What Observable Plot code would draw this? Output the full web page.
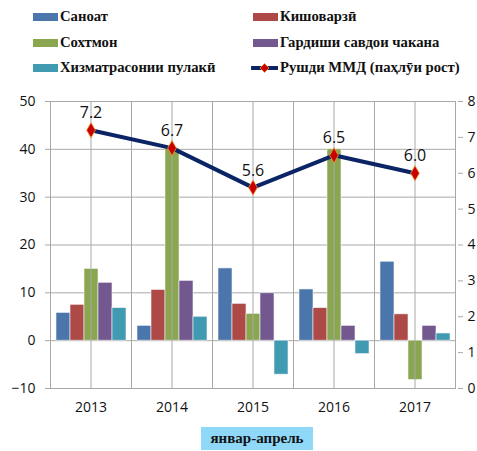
<!DOCTYPE html>
<html>
<head>
<meta charset="utf-8">
<script src="https://cdn.jsdelivr.net/npm/d3@7"></script>
<script src="https://cdn.jsdelivr.net/npm/@observablehq/plot@0.6"></script>
<style>
  html, body { margin: 0; padding: 0; background: white; overflow: hidden; width: 477px; height: 451px; }
  #wrap { position: relative; width: 477px; height: 451px; }
  .leg { position: absolute; font-family: "Liberation Serif", serif; font-weight: bold; font-size: 14.7px; color: #111; white-space: nowrap; line-height: 16px; }
  .sw { position: absolute; width: 25px; height: 8px; }
  #bars, #line { position: absolute; left: 0; top: 88px; }
  #caption { position: absolute; left: 201px; top: 427px; width: 112px; height: 23px; background: #8fd8f8;
    font-family: "Liberation Serif", serif; font-weight: bold; font-size: 15px; text-align: center; line-height: 23px; color: #111; }
</style>
</head>
<body>
<div id="wrap">
  <div id="legend"></div>
  <div id="bars"></div>
  <div id="line"></div>
  <div id="caption">январ-апрель</div>
</div>
<script>
const years = ["2013", "2014", "2015", "2016", "2017"];
const series = ["Саноат", "Кишоварзӣ", "Сохтмон", "Гардиши савдои чакана", "Хизматрасонии пулакӣ"];
const colors = ["#4a76ac", "#ad4a47", "#8ba650", "#72588f", "#409ab2"];
const sanoat = [5.8, 3.1, 15.1, 10.7, 16.5];
const kishovarzi = [7.5, 10.6, 7.7, 6.8, 5.5];
const sokhtmon = [15.0, 40.2, 5.6, 40.0, -8.2];
const gardish = [12.1, 12.5, 9.9, 3.1, 3.1];
const khizmat = [6.8, 5.0, -7.1, -2.8, 1.5];
const lineName = "Рушди ММД (паҳлӯи рост)";
const gdp = [7.2, 6.7, 5.6, 6.5, 6.0];
const leftTicks = [-10, 0, 10, 20, 30, 40, 50];
const rightTicks = [0, 1, 2, 3, 4, 5, 6, 7, 8];

const seriesValues = [sanoat, kishovarzi, sokhtmon, gardish, khizmat];
const rows = years.flatMap((yr, i) => series.map((s, j) => ({year: yr, series: s, value: seriesValues[j][i]})));
const linePts = years.map((yr, i) => ({year: yr, value: gdp[i]}));

// Legend
const legend = document.getElementById("legend");
const legItems = [
  {name: series[0], color: colors[0], col: 0, row: 0},
  {name: series[1], color: colors[1], col: 1, row: 0},
  {name: series[2], color: colors[2], col: 0, row: 1},
  {name: series[3], color: colors[3], col: 1, row: 1},
  {name: series[4], color: colors[4], col: 0, row: 2},
  {name: lineName, color: null, col: 1, row: 2}
];
const colX = [33, 253], rowY = [17, 43, 68];
legItems.forEach(it => {
  const x = colX[it.col], y = rowY[it.row];
  if (it.color) {
    const sw = document.createElement("div");
    sw.className = "sw";
    sw.style.left = x + "px"; sw.style.top = (y - 4) + "px"; sw.style.background = it.color;
    legend.appendChild(sw);
  } else {
    const ns = "http://www.w3.org/2000/svg";
    const s = document.createElementNS(ns, "svg");
    s.setAttribute("width", 27); s.setAttribute("height", 12);
    s.style.position = "absolute"; s.style.left = (x - 2) + "px"; s.style.top = (y - 6) + "px";
    s.innerHTML = '<line x1="1" y1="6" x2="26" y2="6" stroke="#0a2466" stroke-width="4" stroke-linecap="round"/>' +
      '<path d="M13.5,1.5 L18,6 L13.5,10.5 L9,6 Z" fill="#c80000" stroke="#f0a030" stroke-width="0.8"/>';
    legend.appendChild(s);
  }
  const t = document.createElement("div");
  t.className = "leg";
  t.textContent = it.name;
  t.style.left = (x + 27) + "px"; t.style.top = (y - 9) + "px";
  legend.appendChild(t);
});

const W = 477, H = 330, mT = 13, mB = 30, mL = 48, mR = 20;
const numFont = "'Open Sans', sans-serif";

const bars = Plot.plot({
  width: W, height: H, marginTop: mT, marginBottom: mB, marginLeft: mL, marginRight: mR,
  style: {fontFamily: numFont, fontSize: "14px", background: "transparent", overflow: "visible"},
  fx: {domain: years, padding: 0, axis: null, label: null},
  x: {domain: series, axis: null, paddingInner: 0, paddingOuter: 0.27},
  y: {domain: [-10, 50], axis: null},
  color: {domain: series, range: colors},
  marks: [
    Plot.gridY(leftTicks, {stroke: "#a8a8a8", strokeOpacity: 1, strokeWidth: 1}),
    Plot.frame({stroke: "#a8a8a8", strokeWidth: 1}),
    Plot.barY(rows, {fx: "year", x: "series", y: "value", fill: "series", stroke: "#f4f4f4", strokeWidth: 0.6}),
    Plot.axisY(leftTicks, {anchor: "left", tickSize: 5, tickPadding: 10, stroke: "#a8a8a8", fill: "#111", label: null, fontSize: 14})
  ]
});
document.getElementById("bars").appendChild(bars);

const line = Plot.plot({
  width: W, height: H, marginTop: mT, marginBottom: mB, marginLeft: mL, marginRight: mR,
  style: {fontFamily: numFont, fontSize: "14px", background: "transparent", overflow: "visible"},
  x: {type: "band", domain: years, padding: 0, axis: null},
  y: {domain: [0, 8], axis: null},
  marks: [
    Plot.axisX(years, {anchor: "bottom", tickSize: 0, tickPadding: 14, fill: "#111", label: null, fontSize: 14}),
    Plot.axisY(rightTicks, {anchor: "right", tickSize: 5, tickPadding: 5, stroke: "#a8a8a8", fill: "#111", label: null, fontSize: 14}),
    Plot.tickX(years, {x: d => d, y1: 1.34, y2: 1.22, stroke: "#a8a8a8"}),
    Plot.line(linePts, {x: "year", y: "value", stroke: "#0a2466", strokeWidth: 4}),
    Plot.dot(linePts, {x: "year", y: "value", symbol: "diamond", r: 4.6, fill: "#c80000", stroke: "#f0a030", strokeWidth: 0.8}),
    Plot.text(linePts, {x: "year", y: "value", text: d => d.value.toFixed(1), dy: -17, fontSize: 16, fill: "#111"})
  ]
});
document.getElementById("line").appendChild(line);
</script>
</body>
</html>
